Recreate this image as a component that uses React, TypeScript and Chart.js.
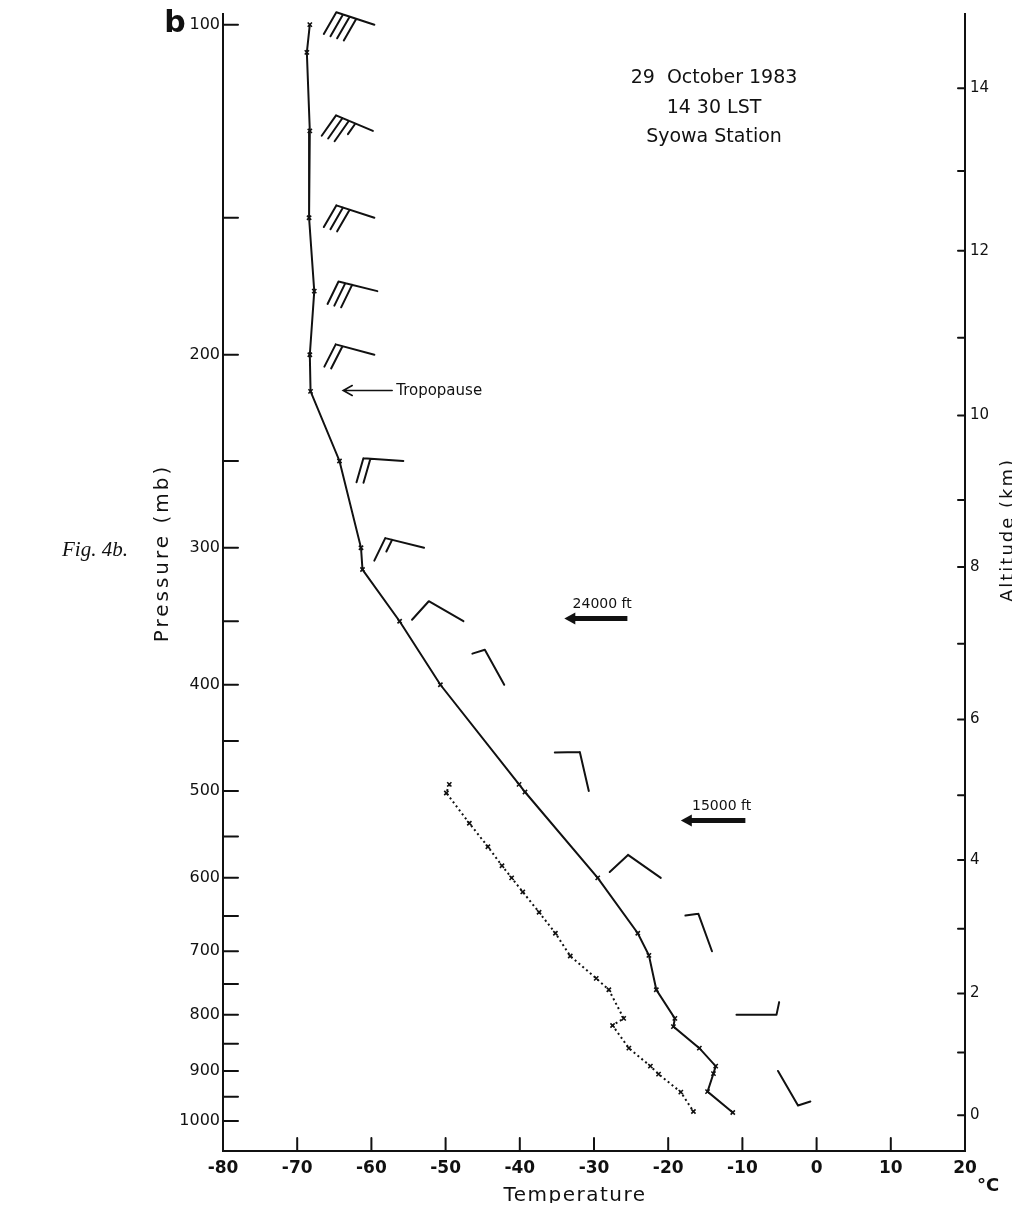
import React, { useEffect, useRef } from "react";
import { Chart, registerables } from "chart.js";

Chart.register(...registerables);

// ---- data ----
const tempPressure = [100, 106, 125, 150, 175, 200, 216, 250, 300, 314, 350, 400, 493, 501, 600, 674, 706, 759, 806, 820, 858, 891, 905, 940, 982];
const tempValues = [-68.3, -68.7, -68.3, -68.4, -67.7, -68.3, -68.2, -64.3, -61.4, -61.2, -56.2, -50.7, -40.1, -39.3, -29.5, -24.1, -22.6, -21.6, -19.1, -19.3, -15.8, -13.6, -13.9, -14.7, -11.3];

const dewPressure = [493, 502, 535, 562, 585, 600, 618, 645, 674, 707, 741, 759, 806, 818, 858, 891, 906, 941, 980];
const dewValues = [-49.5, -49.9, -46.8, -44.3, -42.4, -41.1, -39.6, -37.4, -35.2, -33.2, -29.7, -28.0, -26.0, -27.5, -25.3, -22.4, -21.3, -18.3, -16.6];

const windPressure = [100, 125, 150, 175, 200, 250, 300, 350, 400, 500, 600, 700, 800, 900];
const windStationT = [-59.6, -59.8, -59.6, -59.2, -59.6, -55.7, -52.9, -47.6, -42.1, -30.7, -21.0, -14.1, -10.8, -5.2];
const windDirection = [288, 293, 288, 284, 285, 274, 284, 300, 331, 347, 305, 340, 90, 150];
const windSpeed = [40, 35, 30, 30, 20, 20, 15, 10, 5, 10, 10, 5, 5, 5];

const pressureTicks = [100, 150, 200, 250, 300, 350, 400, 450, 500, 550, 600, 650, 700, 750, 800, 850, 900, 950, 1000];
const pressureLabels = [100, 200, 300, 400, 500, 600, 700, 800, 900, 1000];

const altitudeKm = [0, 1, 2, 3, 4, 5, 6, 7, 8, 9, 10, 11, 12, 13, 14];
const altitudePressure = [987.6, 865.6, 765, 667.6, 577.9, 504.4, 430.2, 366.9, 312.3, 271.4, 227.2, 193.0, 160.8, 136.0, 114.3];

const tropopause = { pressure: 215.6, tailT: -57.2, headT: -63.8, label: "Tropopause" };
const levelArrows = [
  { label: "24000 ft", pressure: 348, labelPressure: 337.6, labelT: -28.9, tailT: -25.5, headT: -34.0 },
  { label: "15000 ft", pressure: 532, labelPressure: 516, labelT: -12.8, tailT: -9.6, headT: -18.3 },
];

const titleLines = ["29  October 1983", "14 30 LST", "Syowa Station"];

const FONT = "'DejaVu Sans', sans-serif";
const INK = "#111111";

function drawBarb(ctx: CanvasRenderingContext2D, x0: number, y0: number, dirDeg: number, speed: number) {
  const rad = (dirDeg * Math.PI) / 180;
  const ux = Math.sin(rad);
  const uy = -Math.cos(rad);
  const L = 40;
  const tx = x0 + ux * L;
  const ty = y0 + uy * L;
  const a = (-78 * Math.PI) / 180;
  const bx = ux * Math.cos(a) - uy * Math.sin(a);
  const by = ux * Math.sin(a) + uy * Math.cos(a);
  ctx.beginPath();
  ctx.moveTo(x0, y0);
  ctx.lineTo(tx, ty);
  let remaining = speed;
  let pos = 0;
  while (remaining >= 10) {
    const px = tx - ux * pos;
    const py = ty - uy * pos;
    ctx.moveTo(px, py);
    ctx.lineTo(px + bx * 25, py + by * 25);
    pos += 7;
    remaining -= 10;
  }
  if (remaining >= 5) {
    const px = tx - ux * pos;
    const py = ty - uy * pos;
    ctx.moveTo(px, py);
    ctx.lineTo(px + bx * 13, py + by * 13);
  }
  ctx.stroke();
}

function setSpacing(ctx: CanvasRenderingContext2D, v: string) {
  (ctx as any).letterSpacing = v;
}

const soundingPlugin = {
  id: "sounding",
  afterDatasetsDraw(chart: any) {
    const ctx: CanvasRenderingContext2D = chart.ctx;
    const xs = chart.scales.x;
    const ys = chart.scales.y;
    const y2 = chart.scales.y2;
    const area = chart.chartArea;
    ctx.save();
    ctx.strokeStyle = INK;
    ctx.fillStyle = INK;
    ctx.lineCap = "round";

    // inward tick marks
    ctx.lineWidth = 2;
    ctx.beginPath();
    ys.ticks.forEach((t: any) => {
      const y = ys.getPixelForValue(t.value);
      ctx.moveTo(area.left, y);
      ctx.lineTo(area.left + 15, y);
    });
    xs.ticks.forEach((t: any) => {
      if (t.value <= xs.min) return;
      const x = xs.getPixelForValue(t.value);
      ctx.moveTo(x, area.bottom);
      ctx.lineTo(x, area.bottom - 13);
    });
    y2.ticks.forEach((t: any) => {
      const y = y2.getPixelForValue(t.value);
      ctx.moveTo(area.right, y);
      ctx.lineTo(area.right - 7, y);
    });
    ctx.stroke();

    // wind barbs
    ctx.lineWidth = 2;
    windPressure.forEach((p, i) => {
      const x0 = xs.getPixelForValue(windStationT[i]);
      const y0 = ys.getPixelForValue(p);
      drawBarb(ctx, x0, y0, windDirection[i], windSpeed[i]);
    });

    // tropopause arrow
    {
      const y = ys.getPixelForValue(tropopause.pressure);
      const xt = xs.getPixelForValue(tropopause.tailT);
      const xh = xs.getPixelForValue(tropopause.headT);
      ctx.lineWidth = 1.6;
      ctx.beginPath();
      ctx.moveTo(xt, y);
      ctx.lineTo(xh, y);
      ctx.moveTo(xh + 9, y - 5);
      ctx.lineTo(xh, y);
      ctx.lineTo(xh + 9, y + 5);
      ctx.stroke();
      ctx.font = `15px ${FONT}`;
      ctx.textAlign = "left";
      ctx.textBaseline = "middle";
      ctx.fillText(tropopause.label, xt + 4, y + 1);
    }

    // level arrows
    levelArrows.forEach((a) => {
      const y = ys.getPixelForValue(a.pressure);
      const xt = xs.getPixelForValue(a.tailT);
      const xh = xs.getPixelForValue(a.headT);
      ctx.lineWidth = 5;
      ctx.lineCap = "butt";
      ctx.beginPath();
      ctx.moveTo(xt, y);
      ctx.lineTo(xh + 8, y);
      ctx.stroke();
      ctx.beginPath();
      ctx.moveTo(xh, y);
      ctx.lineTo(xh + 11, y - 6);
      ctx.lineTo(xh + 11, y + 6);
      ctx.closePath();
      ctx.fill();
      ctx.lineCap = "round";
      ctx.font = `14px ${FONT}`;
      ctx.textAlign = "center";
      ctx.textBaseline = "middle";
      ctx.fillText(a.label, xs.getPixelForValue(a.labelT), ys.getPixelForValue(a.labelPressure));
    });

    // title block
    ctx.font = `19px ${FONT}`;
    ctx.textAlign = "center";
    ctx.textBaseline = "middle";
    const cx = 706;
    [70, 100, 129].forEach((yy, i) => ctx.fillText(titleLines[i], cx, yy));

    // panel letter
    ctx.font = `bold 30px ${FONT}`;
    ctx.textAlign = "center";
    ctx.fillText("b", 167, 16);

    // figure caption
    ctx.font = `italic 21px 'Liberation Serif', serif`;
    ctx.textAlign = "left";
    ctx.fillText("Fig. 4b.", 54, 542);

    // axis titles
    ctx.save();
    ctx.font = `20px ${FONT}`;
    setSpacing(ctx, "3px");
    ctx.translate(155, 545);
    ctx.rotate(-Math.PI / 2);
    ctx.textAlign = "center";
    ctx.fillText("Pressure (mb)", 0, 0);
    ctx.restore();

    ctx.save();
    ctx.font = `18px ${FONT}`;
    setSpacing(ctx, "2px");
    ctx.translate(1000, 522);
    ctx.rotate(-Math.PI / 2);
    ctx.textAlign = "center";
    ctx.fillText("Altitude (km)", 0, 0);
    ctx.restore();

    ctx.save();
    ctx.font = `20px ${FONT}`;
    setSpacing(ctx, "1.5px");
    ctx.textAlign = "center";
    ctx.fillText("Temperature", 567, 1188);
    ctx.restore();

    ctx.font = `bold 18px ${FONT}`;
    ctx.textAlign = "left";
    ctx.fillText("°C", 969, 1178);

    ctx.restore();
  },
};

function noEdgePadding(s: any) {
  s.paddingTop = 0;
  s.paddingBottom = 0;
  s.paddingLeft = 0;
  s.paddingRight = 0;
}

export default function App() {
  const ref = useRef<HTMLCanvasElement | null>(null);

  useEffect(() => {
    if (!ref.current) return;
    const chart = new Chart(ref.current, {
      type: "line",
      data: {
        datasets: [
          {
            label: "Temperature",
            data: tempValues.map((t, i) => ({ x: t, y: tempPressure[i] })),
            borderColor: INK,
            backgroundColor: INK,
            borderWidth: 2,
            pointStyle: "crossRot",
            pointRadius: 3,
            pointBorderWidth: 1.6,
            tension: 0,
            fill: false,
          },
          {
            label: "Dew point",
            data: dewValues.map((t, i) => ({ x: t, y: dewPressure[i] })),
            borderColor: INK,
            backgroundColor: INK,
            borderWidth: 2,
            borderDash: [2, 3],
            pointStyle: "crossRot",
            pointRadius: 3,
            pointBorderWidth: 1.6,
            tension: 0,
            fill: false,
          },
        ],
      },
      options: {
        animation: false,
        responsive: false,
        maintainAspectRatio: false,
        layout: { padding: { top: 0, left: 0, right: 0, bottom: 0 } },
        plugins: { legend: { display: false }, tooltip: { enabled: false }, title: { display: false } },
        scales: {
          x: {
            type: "linear",
            position: "bottom",
            min: -80,
            max: 20,
            ticks: {
              stepSize: 10,
              autoSkip: false,
              maxRotation: 0,
              padding: 7,
              color: INK,
              font: { family: FONT, size: 17, weight: "bold" },
            },
            grid: { display: false, drawTicks: false },
            border: { display: true, color: INK, width: 2 },
            afterFit: (s: any) => {
              s.height = 52;
              noEdgePadding(s);
            },
          },
          y: {
            type: "logarithmic",
            position: "left",
            reverse: true,
            min: 97.7,
            max: 1064.8,
            bounds: "data",
            afterBuildTicks: (s: any) => {
              s.ticks = pressureTicks.map((v) => ({ value: v }));
            },
            ticks: {
              autoSkip: false,
              padding: 3,
              color: INK,
              font: { family: FONT, size: 16 },
              callback: (v: any) => (pressureLabels.includes(Number(v)) ? String(v) : ""),
            },
            grid: { display: false, drawTicks: false },
            border: { display: true, color: INK, width: 2 },
            afterFit: (s: any) => {
              s.width = 215;
              noEdgePadding(s);
            },
          },
          y2: {
            type: "logarithmic",
            position: "right",
            reverse: true,
            min: 97.7,
            max: 1064.8,
            bounds: "data",
            afterBuildTicks: (s: any) => {
              s.ticks = altitudePressure.map((v) => ({ value: v }));
            },
            ticks: {
              autoSkip: false,
              padding: 5,
              color: INK,
              font: { family: FONT, size: 15 },
              callback: (_v: any, i: number) => (altitudeKm[i] % 2 === 0 ? String(altitudeKm[i]) : ""),
            },
            grid: { display: false, drawTicks: false },
            border: { display: true, color: INK, width: 2 },
            afterFit: (s: any) => {
              s.width = 47;
              noEdgePadding(s);
            },
          },
        },
      },
      plugins: [soundingPlugin],
    } as any);
    return () => chart.destroy();
  }, []);

  return (
    <div style={{ width: 1004, height: 1195 }}>
      <canvas ref={ref} width={1004} height={1195} style={{ display: "block", width: 1004, height: 1195 }} />
    </div>
  );
}
